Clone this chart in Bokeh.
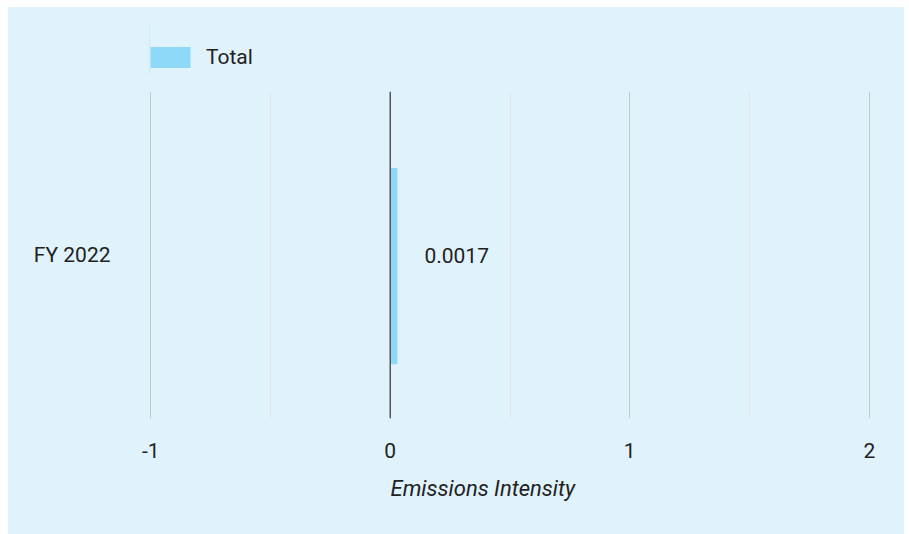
from bokeh.plotting import figure
from bokeh.layouts import column
from bokeh.models import (Range1d, FactorRange, FixedTicker, Span, Legend, LegendItem,
                          ColumnDataSource, Title)
from bokeh.transform import dodge
from bokeh.core.properties import value as pv
from bokeh.embed import file_html
from bokeh.resources import INLINE

categories = ["FY 2022"]
series_name = "Total"
values = [0.0017]
value_labels = ["0.0017"]
x_ticks = [-1, 0, 1, 2]
x_tick_labels = ["-1", "0", "1", "2"]
x_minor = [-0.5, 0.5, 1.5]
x_label = "Emissions Intensity"

# styling
BG = "#E0F2FC"
BAR = "#8ED9F8"
TEXT = "#222222"
FONT = "Roboto"
FS = "21px"
MIN_VISIBLE = 0.03  # minimum drawn length so tiny values stay visible

src = ColumnDataSource(dict(
    cat=categories,
    val=values,
    shown=[max(v, MIN_VISIBLE) for v in values],
    lab=value_labels,
))

# legend strip above the chart (its bar renderer lies outside the strip's view)
top = figure(width=896, height=84, output_backend="svg", toolbar_location=None,
             x_range=Range1d(10, 11), y_range=FactorRange(*categories),
             background_fill_alpha=0, border_fill_alpha=0, outline_line_color=None,
             min_border=0)
top.axis.visible = False
top.grid.visible = False
swatch = top.hbar(y="cat", left=0, right="shown", height=0.6, source=src,
                  fill_color=BAR, line_color=None)
legend = Legend(items=[LegendItem(label=series_name, renderers=[swatch])], location=(-4, 21),
                orientation="horizontal", background_fill_alpha=0, border_line_color=None,
                glyph_width=50, glyph_height=26, label_standoff=11, padding=0, margin=0,
                label_text_font=FONT, label_text_font_size=FS, label_text_color=TEXT)
top.add_layout(legend, "center")

p = figure(width=896, height=443, output_backend="svg", toolbar_location=None,
           x_range=Range1d(-1.005, 2.005), y_range=FactorRange(*categories),
           background_fill_alpha=0, border_fill_alpha=0, outline_line_color=None,
           min_border_left=141, min_border_right=34, min_border_top=0, min_border_bottom=116)

r = p.hbar(y=dodge("cat", -0.034, range=p.y_range), left=0, right="shown", height=0.6,
           source=src, fill_color=BAR, line_color=None)
p.text(x="shown", y="cat", text="lab", source=src, x_offset=27, text_align="left",
       text_baseline="middle", text_color=TEXT, text_font=pv(FONT), text_font_size=FS)

p.add_layout(Span(location=0, dimension="height", line_color="#555555", line_width=1.5))

p.xaxis.ticker = FixedTicker(ticks=x_ticks, minor_ticks=x_minor)
p.xaxis.major_label_overrides = dict(zip(x_ticks, x_tick_labels))
p.xgrid.grid_line_color = "#C8C8C8"
p.xgrid.minor_grid_line_color = "#E4E4E4"
p.ygrid.grid_line_color = None
for ax in (p.xaxis[0], p.yaxis[0]):
    ax.axis_line_color = None
    ax.major_tick_line_color = None
    ax.minor_tick_line_color = None
    ax.major_label_text_font = FONT
    ax.major_label_text_font_size = FS
    ax.major_label_text_color = TEXT
p.xaxis.major_label_standoff = 18
p.yaxis.major_label_standoff = 33

p.add_layout(Title(text=x_label, align="left", offset=241, standoff=27,
                   text_font=FONT, text_font_size="22px", text_font_style="italic",
                   text_color=TEXT), "below")

layout = column(top, p, spacing=0, margin=(7, 0, 0, 8),
                styles={"background-color": BG})

open("out.html", "w").write(file_html(layout, INLINE))
